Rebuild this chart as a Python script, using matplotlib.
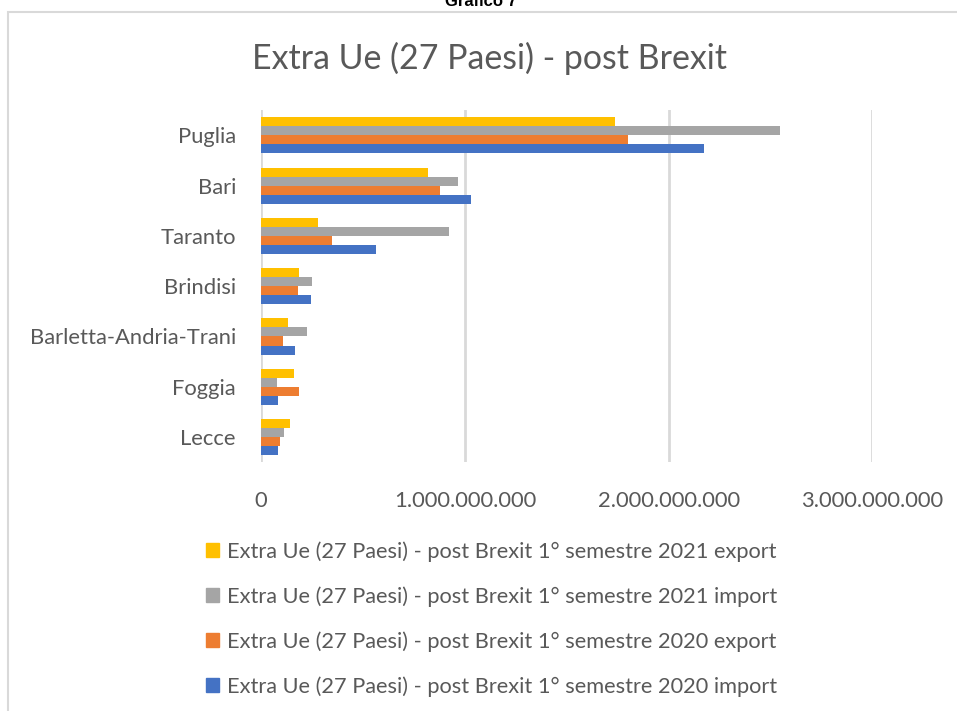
import numpy as np
import matplotlib.pyplot as plt
from matplotlib.patches import Rectangle, Patch
from matplotlib.ticker import FuncFormatter

# Dati (valori in euro)
province = ["Puglia", "Bari", "Taranto", "Brindisi", "Barletta-Andria-Trani", "Foggia", "Lecce"]
export_2021 = [1.736e9, 0.820e9, 0.281e9, 0.185e9, 0.134e9, 0.164e9, 0.143e9]
import_2021 = [2.547e9, 0.966e9, 0.922e9, 0.248e9, 0.225e9, 0.077e9, 0.111e9]
export_2020 = [1.800e9, 0.878e9, 0.348e9, 0.182e9, 0.107e9, 0.185e9, 0.095e9]
import_2020 = [2.172e9, 1.029e9, 0.565e9, 0.246e9, 0.167e9, 0.084e9, 0.082e9]

serie = [
    ("Extra Ue (27 Paesi) - post Brexit 1° semestre 2021 export", export_2021, "#FFC000"),
    ("Extra Ue (27 Paesi) - post Brexit 1° semestre 2021 import", import_2021, "#A5A5A5"),
    ("Extra Ue (27 Paesi) - post Brexit 1° semestre 2020 export", export_2020, "#ED7D31"),
    ("Extra Ue (27 Paesi) - post Brexit 1° semestre 2020 import", import_2020, "#4472C4"),
]

testo = "#595959"
plt.rcParams['font.family'] = ['Lato', 'DejaVu Sans']

fig = plt.figure(figsize=(9.57, 7.11), dpi=100)
ax = fig.add_axes([0.2727, 0.350, 0.639, 0.495])

y = np.arange(len(province))
h = 0.18
for i, (nome, valori, colore) in enumerate(serie):
    ax.barh(y - 1.5 * h + i * h, valori, height=h, color=colore, label=nome, zorder=3)

ax.set_ylim(len(province) - 0.5, -0.5)
ax.set_yticks(y)
ax.set_yticklabels(province, fontsize=15.8, color=testo)
ax.set_xlim(0, 3e9)
ax.set_xticks([0, 1e9, 2e9, 3e9])
ax.xaxis.set_major_formatter(FuncFormatter(lambda v, p: "0" if v == 0 else f"{v:,.0f}".replace(",", ".")))
ax.tick_params(axis="x", labelsize=15.8, labelcolor=testo, length=0, pad=21)
ax.tick_params(axis="y", length=0, pad=18)
ax.grid(axis="x", color="#D9D9D9", linewidth=2, zorder=0)
for s in ax.spines.values():
    s.set_visible(False)

# cornice e titoli
fig.patches.append(Rectangle((0.0084, -0.02), 1.1, 1 - 12 / 711 + 0.02, transform=fig.transFigure,
                             fill=False, edgecolor="#D9D9D9", linewidth=1.5))
fig.text(0.503, 1 - 6 / 711, "Grafico 7", ha="center", va="baseline", fontsize=12,
         fontweight="bold", family="Liberation Sans", color="black")
fig.text(0.511, 1 - 58 / 711, "Extra Ue (27 Paesi) - post Brexit", ha="center", va="center",
         fontsize=24.4, color=testo)

handles = [Patch(color=c, label=n) for n, v, c in serie]
fig.legend(handles=handles, loc="upper left", bbox_to_anchor=(0.215, 0.239), frameon=False,
           fontsize=15.7, labelcolor=testo, handlelength=0.62, handleheight=0.62,
           handletextpad=0.35, labelspacing=1.12, borderaxespad=0, borderpad=0)

fig.savefig("out.png", dpi=100)
